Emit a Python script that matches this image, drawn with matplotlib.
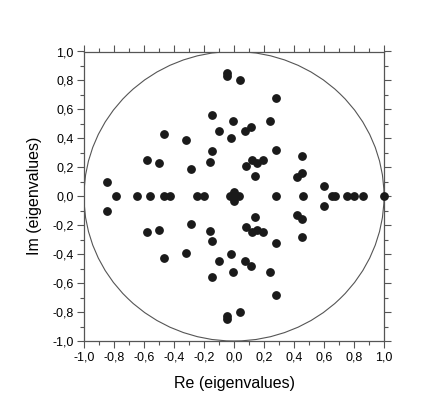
import matplotlib
matplotlib.use('Agg')
import matplotlib.pyplot as plt
from matplotlib.patches import Circle
from matplotlib.ticker import MultipleLocator, FuncFormatter

re_upper = [-0.85, -0.58, -0.50, -0.47, -0.32, -0.29, -0.16, -0.15, -0.15, -0.10,
            -0.02, -0.01, -0.05, -0.05, 0.04, 0.28, 0.24, 0.07, 0.11, 0.28,
            0.08, 0.12, 0.15, 0.19, 0.14, 0.45, 0.45, 0.42, 0.60, 0.00]
im_upper = [0.10, 0.25, 0.23, 0.43, 0.39, 0.19, 0.24, 0.31, 0.56, 0.45,
            0.40, 0.52, 0.85, 0.83, 0.80, 0.68, 0.52, 0.45, 0.48, 0.32,
            0.21, 0.25, 0.23, 0.25, 0.14, 0.28, 0.16, 0.13, 0.07, 0.03]

re_lower = [-0.85, -0.58, -0.50, -0.47, -0.32, -0.29, -0.16, -0.15, -0.15, -0.10,
            -0.02, -0.01, -0.05, -0.05, 0.04, 0.28, 0.24, 0.07, 0.11, 0.28,
            0.08, 0.12, 0.15, 0.19, 0.14, 0.45, 0.45, 0.42, 0.60, 0.00]
im_lower = [-0.10, -0.25, -0.23, -0.43, -0.39, -0.19, -0.24, -0.31, -0.56, -0.45,
            -0.40, -0.52, -0.85, -0.83, -0.80, -0.68, -0.52, -0.45, -0.48, -0.32,
            -0.21, -0.25, -0.23, -0.25, -0.14, -0.28, -0.16, -0.13, -0.07, -0.03]

re_real = [-0.79, -0.65, -0.56, -0.47, -0.43, -0.25, -0.20, -0.03, 0.00, 0.03,
           0.28, 0.46, 0.65, 0.67, 0.75, 0.80, 0.86, 1.00]
im_real = [0.0] * len(re_real)

plt.rcParams['font.family'] = ['Liberation Sans', 'DejaVu Sans']

fig = plt.figure(figsize=(4.36, 4.16), dpi=100)
ax = fig.add_axes([84 / 436, 1 - 341 / 416, 300 / 436, 289.5 / 416])

ax.add_patch(Circle((0, 0), 1.0, fill=False, edgecolor='#555555', linewidth=0.8))

for xs, ys in [(re_upper, im_upper), (re_lower, im_lower), (re_real, im_real)]:
    ax.plot(xs, ys, 'o', color='#1a1a1a', markersize=5.3, clip_on=False, zorder=3)

ax.set_xlim(-1, 1)
ax.set_ylim(-1, 1)

fmt = FuncFormatter(lambda v, p: f'{v:.1f}'.replace('.', ',').replace('-0,0', '0,0'))
for axis in (ax.xaxis, ax.yaxis):
    axis.set_major_locator(MultipleLocator(0.2))
    axis.set_minor_locator(MultipleLocator(0.1))
    axis.set_major_formatter(fmt)

ax.tick_params(which='both', direction='out', top=True, right=True,
               labeltop=False, labelright=False, color='#555555', width=0.8)
ax.tick_params(which='major', length=5, labelsize=9, pad=2.5)
ax.tick_params(which='minor', length=3)
for s in ax.spines.values():
    s.set_color('#555555')
    s.set_linewidth(0.9)

ax.set_xlabel('Re (eigenvalues)', fontsize=11.5, labelpad=9)
ax.set_ylabel('Im (eigenvalues)', fontsize=11.5, labelpad=7)

fig.savefig('out.png', dpi=100)
